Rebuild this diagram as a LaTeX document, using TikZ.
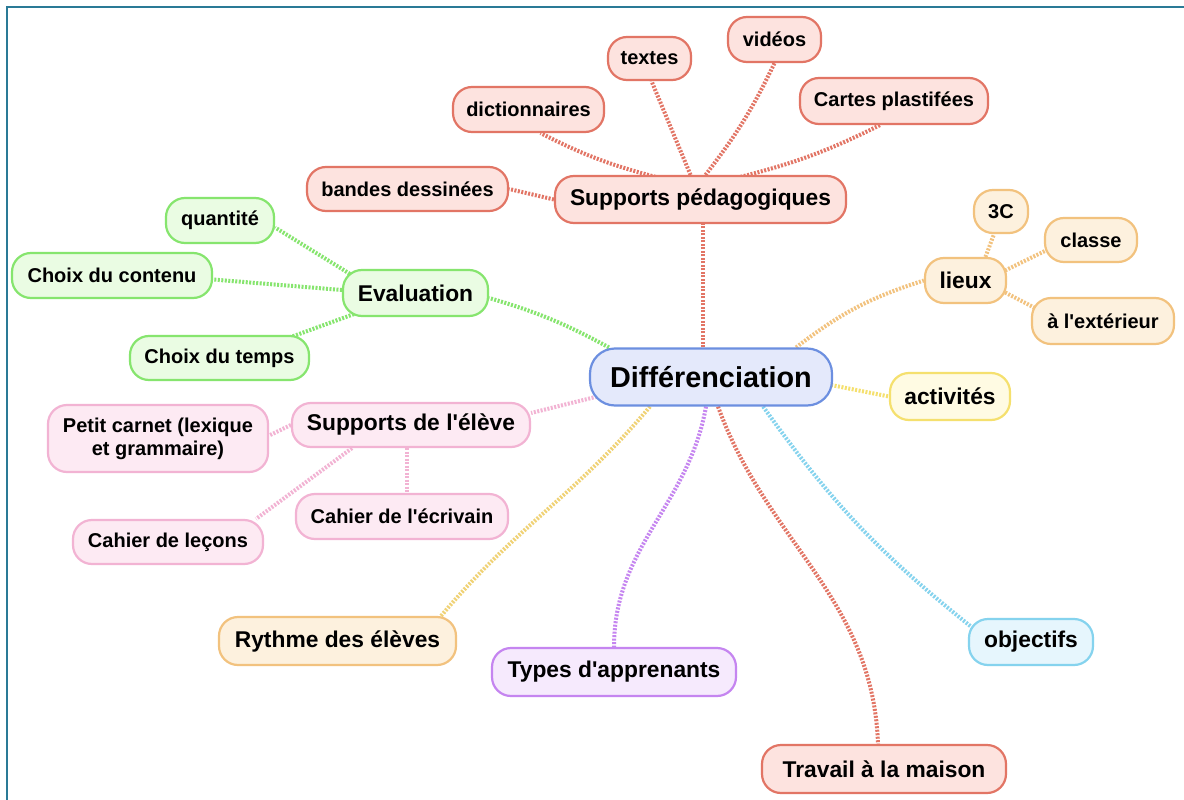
\documentclass[tikz,border=0pt]{standalone}
\usepackage{fontspec}
\setmainfont{Liberation Sans}
\usetikzlibrary{calc,backgrounds}
\definecolor{frame}{HTML}{2A7A96}
\definecolor{cD}{HTML}{6C8FE0}\definecolor{fD}{HTML}{E4E9FB}
\definecolor{cR}{HTML}{E27565}\definecolor{fR}{HTML}{FDE3DF}
\definecolor{cG}{HTML}{86E56E}\definecolor{fG}{HTML}{EAFCE3}
\definecolor{cO}{HTML}{F2C27E}\definecolor{fO}{HTML}{FDF1DE}
\definecolor{cY}{HTML}{F5E06E}\definecolor{fY}{HTML}{FFFBE3}
\definecolor{cP}{HTML}{F2B3D3}\definecolor{fP}{HTML}{FDEAF3}
\definecolor{cV}{HTML}{C585F0}\definecolor{fV}{HTML}{F6EAFD}
\definecolor{cC}{HTML}{85D3EE}\definecolor{fC}{HTML}{E6F6FD}
\definecolor{cRy}{HTML}{F0D275}
\newcommand\apos{\textquotesingle}
\tikzset{
  box/.style={draw, line width=2.2pt, rounded corners=19pt, align=center, inner sep=0pt, text=black},
  fsmall/.style={font=\bfseries\fontsize{20}{23}\selectfont},
  fmid/.style={font=\bfseries\fontsize{22.8}{26}\selectfont},
  fbig/.style={font=\bfseries\fontsize{28.8}{32}\selectfont},
  sz/.style 2 args={minimum width=#1pt, minimum height=#2pt},
  boxD/.style={box, draw=cD, fill=fD, fbig, rounded corners=25pt},
  boxR/.style={box, draw=cR, fill=fR},
  boxG/.style={box, draw=cG, fill=fG},
  boxO/.style={box, draw=cO, fill=fO},
  boxY/.style={box, draw=cY, fill=fY},
  boxP/.style={box, draw=cP, fill=fP},
  boxV/.style={box, draw=cV, fill=fV},
  boxC/.style={box, draw=cC, fill=fC},
  link/.style={line width=4pt, dash pattern=on 2pt off 1.5pt},
}
\begin{document}
\begin{tikzpicture}[x=1pt,y=-1pt]
\useasboundingbox (0,0) rectangle (1184,800);

\node[boxD, sz={242}{57}] (D) at (711,377) {Différenciation};

\node[boxR, fmid, sz={291}{47}] (SP) at (700.5,199.5) {Supports pédagogiques};
\node[boxR, fsmall, sz={201}{44}] (bd) at (407.5,189) {bandes dessinées};
\node[boxR, fsmall, sz={151}{45}] (dic) at (528.5,109.5) {dictionnaires};
\node[boxR, fsmall, sz={83}{43}] (txt) at (649.5,58.5) {textes};
\node[boxR, fsmall, sz={93}{45}] (vid) at (774.5,39.5) {vidéos};
\node[boxR, fsmall, sz={188}{46}] (cp) at (894,101) {Cartes plastifées};

\node[boxG, fmid, sz={145}{46}] (ev) at (415.5,293) {Evaluation};
\node[boxG, fsmall, sz={108}{45}] (qt) at (220,220.5) {quantité};
\node[boxG, fsmall, sz={200}{45}] (cc) at (112,275.5) {Choix du contenu};
\node[boxG, fsmall, sz={179}{44}] (ct) at (219.5,358) {Choix du temps};

\node[boxO, fmid, sz={81}{45}] (li) at (965.5,280.5) {lieux};
\node[boxO, fsmall, sz={54}{43}] (c3) at (1001,211.5) {3C};
\node[boxO, fsmall, sz={92}{44}] (cl) at (1091,240) {classe};
\node[boxO, fsmall, sz={142}{46}] (ext) at (1103,321) {à l\apos extérieur};

\node[boxY, fmid, sz={120}{47}] (act) at (950,396.5) {activités};

\node[boxP, fmid, sz={238}{44}] (se) at (411,425) {Supports de l\apos élève};
\node[boxP, fsmall, sz={220}{67}] (pc) at (158,438.5) {Petit carnet (lexique\\et grammaire)};
\node[boxP, fsmall, sz={212}{45}] (ce) at (402,516.5) {Cahier de l\apos écrivain};
\node[boxP, fsmall, sz={190}{44}] (cl2) at (168,542) {Cahier de leçons};

\node[boxO, fmid, sz={237}{48}] (ry) at (337.5,641) {Rythme des élèves};
\node[boxV, fmid, sz={244}{48}] (ty) at (614,672) {Types d\apos apprenants};
\node[boxC, fmid, sz={124}{46}] (ob) at (1031,642) {objectifs};
\node[boxR, fmid, sz={244}{48}] (tr) at (884,769) {Travail à la maison};

\begin{scope}[on background layer]
\fill[white] (0,0) rectangle (1184,800);
\draw[frame, line width=2pt] (7,800) -- (7,7) -- (1184,7);
% red group
\draw[link, cR] ($(D.north)+(-8,0)$) -- ($(SP.south)+(2.5,0)$);
\draw[link, cR] (SP.west) -- (bd.east);
\draw[link, cR] ($(SP.north)+(-45,2)$) to[bend left=6] ($(dic.south)+(12,0)$);
\draw[link, cR] ($(SP.north)+(-10,0)$) -- ($(txt.south)+(2,0)$);
\draw[link, cR] ($(SP.north)+(5,0)$) to[bend right=6] (vid.south);
\draw[link, cR] ($(SP.north)+(40,2)$) to[bend right=6] ($(cp.south)+(-14,0)$);
% green group
\draw[link, cG] ($(D.north west)+(20,0)$) to[bend right=6] ($(ev.east)+(0,5)$);
\draw[link, cG] ($(ev.north west)+(8,5)$) -- ($(qt.east)+(0,7)$);
\draw[link, cG] ($(ev.west)+(0,-3)$) -- ($(cc.east)+(0,4)$);
\draw[link, cG] ($(ev.south west)+(12,-3)$) -- ($(ct.north east)+(-30,6)$);
% orange group (lieux)
\draw[link, cO] ($(D.north east)+(-37,0)$) to[bend left=10] (li.west);
\draw[link, cO] ($(li.north)+(20,0)$) -- ($(c3.south)+(-7,0)$);
\draw[link, cO] ($(li.east)+(-2,-10)$) -- ($(cl.west)+(3,10)$);
\draw[link, cO] ($(li.east)+(-2,12)$) -- ($(ext.west)+(8,-11)$);
% yellow
\draw[link, cY] ($(D.east)+(-2,8)$) -- (act.west);
% pink group
\draw[link, cP] ($(D.south west)+(8,-10)$) -- ($(se.east)+(0,-12)$);
\draw[link, cP] (se.west) -- ($(pc.east)+(0,-3)$);
\draw[link, cP] ($(se.south)+(-4,0)$) -- ($(ce.north)+(5,0)$);
\draw[link, cP] ($(se.south)+(-59,0)$) -- ($(cl2.north east)+(-8,0)$);
% other branches
\draw[link, cRy] ($(D.south)+(-61,0)$) to[out=-130,in=50] ($(ry.north east)+(-16,0)$);
\draw[link, cV] ($(D.south)+(-5,0)$) to[out=-100,in=90] (ty.north);
\draw[link, cR] ($(D.south)+(7,0)$) to[out=-70,in=92] ($(tr.north)+(-6,0)$);
\draw[link, cC] ($(D.south east)+(-70,0)$) to[bend right=8] ($(ob.north west)+(6,11)$);
\end{scope}
\end{tikzpicture}
\end{document}
